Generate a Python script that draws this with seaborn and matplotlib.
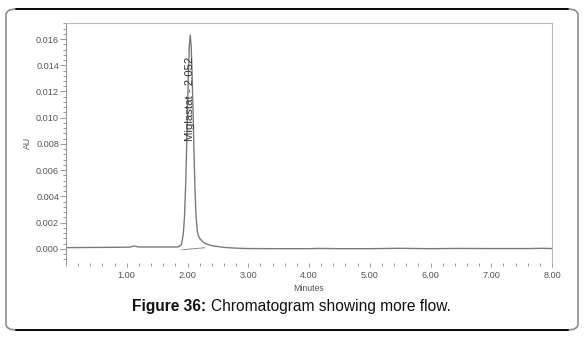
import matplotlib
matplotlib.use("Agg")
import matplotlib.pyplot as plt
import seaborn as sns
import pandas as pd
from matplotlib.patches import FancyBboxPatch
from matplotlib.lines import Line2D
from matplotlib.ticker import MultipleLocator, FormatStrFormatter

# ---- data ----
time_min = [0.00, 0.30, 0.60, 0.90, 1.05, 1.12, 1.20, 1.40, 1.60, 1.80, 1.85,
            1.90, 1.93, 1.95, 1.97, 1.99, 2.01, 2.03, 2.045, 2.06, 2.08,
            2.10, 2.12, 2.14, 2.16, 2.18, 2.21, 2.25, 2.30, 2.40, 2.60,
            2.80, 3.00, 3.50, 4.00, 4.15, 4.50, 5.00, 5.48, 6.00, 6.40,
            7.00, 7.60, 7.85, 8.00]
absorbance = [0.00010, 0.00011, 0.00012, 0.00013, 0.00014, 0.00022, 0.00015,
              0.00015, 0.00015, 0.00015, 0.00016,
              0.00032, 0.00110, 0.00240, 0.00490, 0.00850, 0.01250, 0.01550,
              0.01630, 0.01550, 0.01270,
              0.00880, 0.00500, 0.00250, 0.00140, 0.00100, 0.00075, 0.00055,
              0.00040, 0.00025, 0.00012,
              0.00006, 0.00003, 0.00002, 0.00002, 0.00004, 0.00002, 0.00002,
              0.00005, 0.00002, 0.00004, 0.00003, 0.00003, 0.00005, 0.00003]

# integration baseline of the peak
base_time = [1.87, 2.30]
base_abs = [-0.00008, 0.00010]

peak_label = "Miglastat - 2.052"
peak_time = 2.045
label_start = 0.0082

x_ticks = [1, 2, 3, 4, 5, 6, 7, 8]
y_ticks = [0.000, 0.002, 0.004, 0.006, 0.008, 0.010, 0.012, 0.014, 0.016]

caption_bold = "Figure 36:"
caption_rest = "Chromatogram showing more flow."

df = pd.DataFrame({"Minutes": time_min, "AU": absorbance})
df_base = pd.DataFrame({"Minutes": base_time, "AU": base_abs})

sns.set_style("white")
plt.rcParams["font.family"] = ["Liberation Sans", "DejaVu Sans"]

fig = plt.figure(figsize=(5.88, 3.39), dpi=100)
fig.patch.set_facecolor("white")

W, H = 588.0, 339.0
# outer rounded frame
x0, x1, yt, yb = 6, 578, 9, 330
box = FancyBboxPatch((x0 / W, 1 - yb / H), (x1 - x0) / W, (yb - yt) / H,
                     boxstyle="round,pad=0,rounding_size=0.018",
                     transform=fig.transFigure, facecolor="none",
                     edgecolor="#8c8c8c", linewidth=1.2)
fig.add_artist(box)
fig.add_artist(Line2D([(x0 + 10) / W, (x1 - 10) / W], [1 - yt / H, 1 - yt / H],
                      transform=fig.transFigure, color="black", lw=1.3))
fig.add_artist(Line2D([(x0 + 10) / W, (x1 - 10) / W], [1 - yb / H, 1 - yb / H],
                      transform=fig.transFigure, color="black", lw=1.3))

ax = fig.add_axes([66 / W, 1 - 263 / H, (552 - 66) / W, (263 - 23) / H])
sns.lineplot(data=df, x="Minutes", y="AU", ax=ax, color="#7a7a7a",
             linewidth=1.0, estimator=None, sort=False)
sns.lineplot(data=df_base, x="Minutes", y="AU", ax=ax, color="#8a8a8a",
             linewidth=0.7, estimator=None, marker="x", markersize=2.5,
             markeredgewidth=0.6, sort=False)

ax.set_xlim(0, 8)
ax.set_ylim(-0.00107, 0.01722)
ax.set_xticks(x_ticks)
ax.set_yticks(y_ticks)
ax.xaxis.set_major_formatter(FormatStrFormatter("%.2f"))
ax.yaxis.set_major_formatter(FormatStrFormatter("%.3f"))
ax.xaxis.set_minor_locator(MultipleLocator(0.2))
ax.yaxis.set_minor_locator(MultipleLocator(0.0004))

for s in ["top", "right"]:
    ax.spines[s].set_color("#b8b8b8")
    ax.spines[s].set_linewidth(0.8)
ax.spines["left"].set_color("#9a9a9a")
ax.spines["left"].set_linewidth(0.8)
ax.spines["bottom"].set_visible(False)

ax.tick_params(axis="both", which="both", direction="out", colors="#8a8a8a",
               labelcolor="#555555", labelsize=6.6, width=0.6)
ax.tick_params(axis="y", which="major", length=4, pad=1)
ax.tick_params(axis="y", which="minor", length=2)
ax.tick_params(axis="x", which="major", length=3, pad=2.5)
ax.tick_params(axis="x", which="minor", length=2.5)
ax.tick_params(left=True, bottom=True, which="both")

ax.set_xlabel("Minutes", fontsize=6.3, color="#555555", labelpad=3)
ax.set_ylabel("AU", fontsize=6.3, color="#555555", labelpad=3)

ax.text(peak_time, label_start, peak_label, rotation=90, ha="center",
        va="bottom", fontsize=8.2, color="#333333")

# caption
t1 = fig.text(132 / W, 1 - 307 / H, caption_bold, fontsize=11.2, fontweight="bold",
              ha="left", va="center", color="#111111")
fig.canvas.draw()
bb = t1.get_window_extent(renderer=fig.canvas.get_renderer())
fig.text((bb.x1 + 5) / W, 1 - 307 / H, caption_rest, fontsize=11.2,
         ha="left", va="center", color="#111111")

fig.savefig("out.png", dpi=100, facecolor="white")
